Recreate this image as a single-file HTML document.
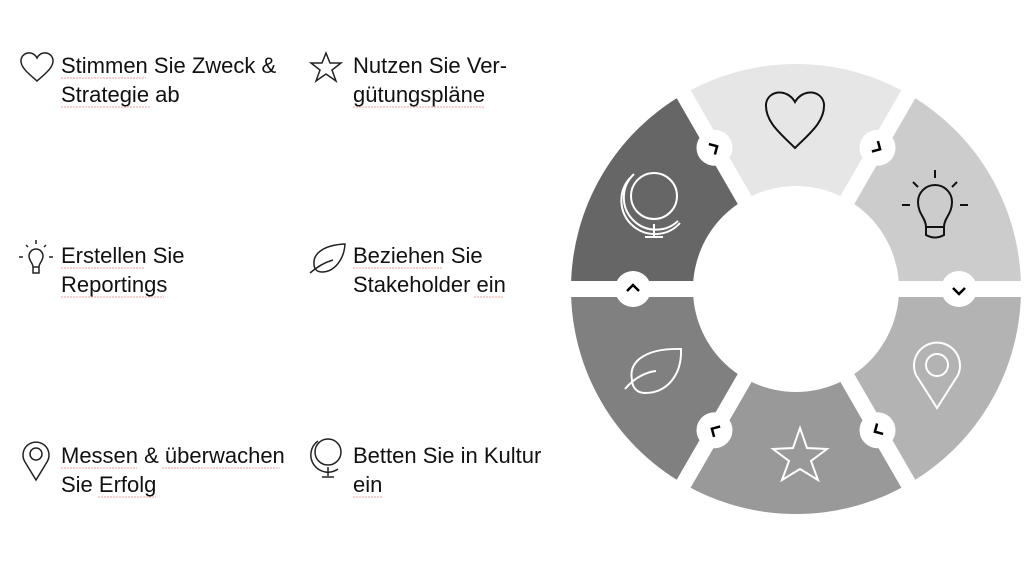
<!DOCTYPE html>
<html><head><meta charset="utf-8"><style>
html,body{margin:0;padding:0;background:#fff;}
svg{display:block}
text{font-family:"Liberation Sans",sans-serif;font-size:22px;fill:#111}
</style></head><body>
<svg width="1024" height="576" viewBox="0 0 1024 576" xmlns="http://www.w3.org/2000/svg">
<path d="M796,289 L683.5,94.1 A225,225 0 0 1 908.5,94.1 Z" fill="#e6e6e6"/>
<path d="M796,289 L908.5,94.1 A225,225 0 0 1 1021,289 Z" fill="#cccccc"/>
<path d="M796,289 L1021,289 A225,225 0 0 1 908.5,483.9 Z" fill="#b3b3b3"/>
<path d="M796,289 L908.5,483.9 A225,225 0 0 1 683.5,483.9 Z" fill="#999999"/>
<path d="M796,289 L683.5,483.9 A225,225 0 0 1 571,289 Z" fill="#808080"/>
<path d="M796,289 L571,289 A225,225 0 0 1 683.5,94.1 Z" fill="#666666"/>
<g stroke="#fff" stroke-width="16">
<line x1="796" y1="289" x2="1030" y2="289"/>
<line x1="796" y1="289" x2="560" y2="289"/>
<line x1="796" y1="289" x2="916" y2="497"/>
<line x1="796" y1="289" x2="676" y2="497"/>
<line x1="796" y1="289" x2="676" y2="81"/>
<line x1="796" y1="289" x2="916" y2="81"/>
</g>
<circle cx="796" cy="289" r="103" fill="#fff"/>
<g fill="#fff">
<circle cx="959" cy="289" r="18"/><circle cx="877.5" cy="430.2" r="18"/>
<circle cx="714.5" cy="430.2" r="18"/><circle cx="633" cy="289" r="18"/>
<circle cx="714.5" cy="147.8" r="18"/><circle cx="877.5" cy="147.8" r="18"/>
</g>
<g fill="none" stroke="#000" stroke-width="2.5">
<path d="M-6,3 L0,-3 L6,3" transform="translate(959,291) rotate(180)"/>
<path d="M-6,3 L0,-3 L6,3" transform="translate(877.5,430.2) rotate(240)"/>
<path d="M-6,3 L0,-3 L6,3" transform="translate(714.5,430.2) rotate(300)"/>
<path d="M-6,3 L0,-3 L6,3" transform="translate(633,288) rotate(0)"/>
<path d="M-6,3 L0,-3 L6,3" transform="translate(714.5,147.8) rotate(60)"/>
<path d="M-6,3 L0,-3 L6,3" transform="translate(877.5,147.8) rotate(120)"/>
</g>
<path d="M795,148 C781,134 765,122 766,104 C768,90 787,88 795,102 C803,88 822,90 824,104 C825,122 809,134 795,148 Z" fill="none" stroke="#111" stroke-width="2"/>
<g fill="none" stroke="#111" stroke-width="2">
<path d="M926,227 C926,218 918,214 918,202 A17,17 0 0 1 952,202 C952,214 944,218 944,227 Z"/>
<path d="M926,227 L926,235 Q935,240 944,235 L944,227"/>
<line x1="935" y1="170" x2="935" y2="178"/>
<line x1="902" y1="205" x2="910" y2="205"/><line x1="960" y1="205" x2="968" y2="205"/>
<line x1="913" y1="182" x2="918" y2="187"/><line x1="957" y1="182" x2="952" y2="187"/>
</g>
<g fill="none" stroke="#fff" stroke-width="2">
<path d="M937,408 L916,375 A23,23 0 1 1 958,375 Z"/>
<circle cx="937" cy="365" r="11"/>
<path d="M800,428 L807,448 L827,449 L811,461 L818,480 L800,469 L782,480 L789,461 L773,449 L793,448 Z"/>
<path d="M632,380 C628,360 648,348 681,349 C682,375 667,393 645,393 C636,393 632,386 632,380 Z"/>
<path d="M625,389 C634,378 646,372 656,371"/>
<circle cx="654" cy="196" r="23"/>
<path d="M634,174 A30,30 0 0 0 678,221"/>
<path d="M630,178 A30,30 0 0 0 680,223"/>
<line x1="654" y1="224" x2="654" y2="236"/><line x1="645" y1="237" x2="663" y2="237"/>
</g>
<g fill="none" stroke="#222" stroke-width="1.5">
<path d="M37,81 C29,74 20,67 21,60 C22,52 33,50 37,58 C41,50 52,52 53,60 C54,67 45,74 37,81 Z"/>
<path d="M326,53 L330,63 L341,63 L332,70 L336,81 L326,74 L316,81 L320,70 L311,63 L322,63 Z"/>
<path d="M33,267 C33,263 29,261 29,256 A7,7 0 0 1 43,256 C43,261 39,263 39,267 Z M33,267 L33,273 L39,273 L39,267"/>
<line x1="36" y1="240" x2="36" y2="244"/><line x1="19" y1="257" x2="23" y2="257"/><line x1="49" y1="257" x2="53" y2="257"/>
<line x1="26" y1="245" x2="28" y2="247"/><line x1="46" y1="245" x2="44" y2="247"/>
<path d="M314,264 C313,254 323,245 345,244 C344,260 334,272 322,272 C317,272 314,269 314,264 Z"/><path d="M310,273 C318,266 326,262 333,260"/>
<path d="M36,480 L25,462 A13,13 0 1 1 47,462 Z"/><circle cx="36" cy="454" r="6"/>
<circle cx="328" cy="452" r="13"/><path d="M318,441 A16,16 0 0 0 338,469"/><line x1="328" y1="467" x2="328" y2="476"/><line x1="322" y1="477" x2="334" y2="477"/>
</g>
<g stroke="#f0a0a0" stroke-width="1" stroke-dasharray="2,1">
<line x1="61" y1="78" x2="146" y2="78"/><line x1="61" y1="107" x2="150" y2="107"/>
<line x1="353" y1="107" x2="485" y2="107"/>
<line x1="61" y1="268" x2="145" y2="268"/><line x1="61" y1="297" x2="164" y2="297"/>
<line x1="353" y1="268" x2="442" y2="268"/><line x1="474" y1="297" x2="503" y2="297"/>
<line x1="61" y1="468" x2="137" y2="468"/><line x1="162" y1="468" x2="280" y2="468"/>
<line x1="98" y1="497" x2="156" y2="497"/><line x1="353" y1="497" x2="382" y2="497"/>
</g>
<text x="61" y="73">Stimmen Sie Zweck &amp;</text>
<text x="61" y="102">Strategie ab</text>
<text x="353" y="73">Nutzen Sie Ver-</text>
<text x="353" y="102">gütungspläne</text>
<text x="61" y="263">Erstellen Sie</text>
<text x="61" y="292">Reportings</text>
<text x="353" y="263">Beziehen Sie</text>
<text x="353" y="292">Stakeholder ein</text>
<text x="61" y="463">Messen &amp; überwachen</text>
<text x="61" y="492">Sie Erfolg</text>
<text x="353" y="463">Betten Sie in Kultur</text>
<text x="353" y="492">ein</text>
</svg>
</body></html>
